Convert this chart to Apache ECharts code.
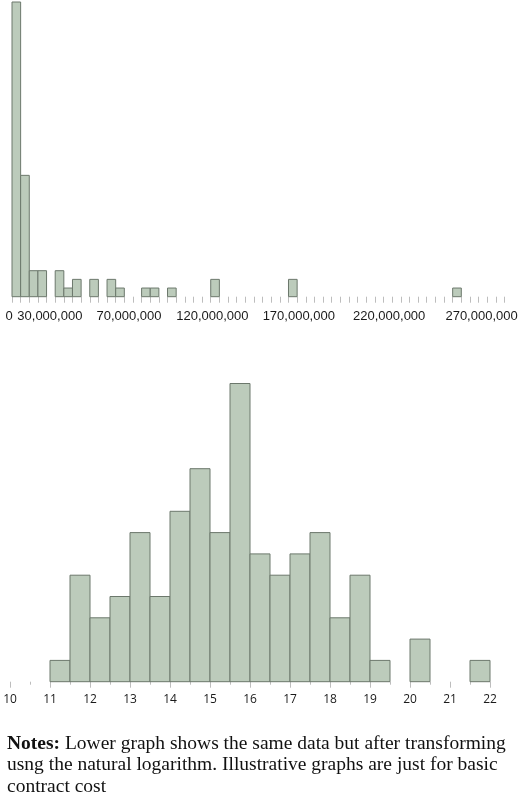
<!DOCTYPE html>
<html>
<head>
<meta charset="utf-8">
<script src="https://cdn.jsdelivr.net/npm/echarts@6/dist/echarts.min.js"></script>
<style>
  html, body { margin: 0; padding: 0; background: #fff; }
  #chart { width: 520px; height: 795px; }
</style>
</head>
<body>
<div id="chart"></div>
<script>
// upper histogram: raw contract cost, 5,000,000 wide bins
const topBinWidth = 5000000;
const topBinStart = [0, 5, 10, 15, 25, 30, 35, 45, 55, 60, 75, 80, 90, 115, 160, 255].map(v => v * 1000000);
const topCount = [34, 14, 3, 3, 3, 1, 2, 2, 2, 1, 1, 1, 1, 2, 2, 1];
const topLabels = [0, 30000000, 70000000, 120000000, 170000000, 220000000, 270000000];

// lower histogram: natural log of the same costs, 0.5 wide bins
const lowBinWidth = 0.5;
const lowBinStart = [11, 11.5, 12, 12.5, 13, 13.5, 14, 14.5, 15, 15.5, 16, 16.5, 17, 17.5, 18, 18.5, 19, 20, 21.5];
const lowCount = [1, 5, 3, 4, 7, 4, 8, 10, 7, 14, 6, 5, 6, 7, 3, 5, 1, 2, 1];
const lowLabels = [10, 11, 12, 13, 14, 15, 16, 17, 18, 19, 20, 21, 22];

const notes = '{b|Notes:} Lower graph shows the same data but after transforming\n' +
  'usng the natural logarithm. Illustrative graphs are just for basic\n' +
  'contract cost';

const barFill = '#bccbbb';
const barLine = '#6c786c';

// small nudges so the top labels sit where the original put them (padding l/r)
const topLabelPad = [[0, 6], [0, 28], [0, 8], [0, 14], [0, 14], [0, 6], [6, 0]];

const topData = topBinStart.map((s, i) => [s, s + topBinWidth, topCount[i]]);
const lowData = lowBinStart.map((s, i) => [s, s + lowBinWidth, lowCount[i]]);

function renderBin(params, api) {
    const p0 = api.coord([api.value(0), api.value(2)]);
    const p1 = api.coord([api.value(1), 0]);
    return {
        type: 'rect',
        shape: { x: p0[0], y: p0[1], width: p1[0] - p0[0], height: p1[1] - p0[1] },
        style: { fill: barFill, stroke: barLine, lineWidth: 1 }
    };
}

function fmtNum(v) {
    return String(v).replace(/\B(?=(\d{3})+(?!\d))/g, ',');
}

const topRich = {};
topLabelPad.forEach((p, i) => {
    topRich['t' + i] = {
        fontFamily: 'Liberation Sans', fontSize: 13, color: '#1a1a1a',
        padding: [0, p[1], 0, p[0]]
    };
});

const chart = echarts.init(document.getElementById('chart'));
chart.setOption({
    animation: false,
    title: {
        text: notes,
        left: 2,
        top: 728,
        textStyle: {
            fontFamily: 'Liberation Serif',
            fontSize: 19.5,
            fontWeight: 'normal',
            color: '#111',
            lineHeight: 21.5,
            rich: {
                b: { fontFamily: 'Liberation Serif', fontSize: 19.5, fontWeight: 'bold', color: '#111', lineHeight: 21.5 }
            }
        }
    },
    grid: [
        { left: 12, top: 2, width: 492.5, height: 294.7, containLabel: false, outerBoundsMode: 'none' },
        { left: 10, top: 383.5, width: 480, height: 298.2, containLabel: false, outerBoundsMode: 'none' }
    ],
    xAxis: [
        {
            gridIndex: 0,
            type: 'value',
            min: 0,
            max: 285000000,
            interval: topBinWidth,
            axisLine: { show: false },
            splitLine: { show: false },
            axisTick: { show: true, length: 6, lineStyle: { color: '#bdbdbd', width: 1 } },
            axisLabel: {
                margin: 13,
                fontFamily: 'Liberation Sans',
                fontSize: 13,
                color: '#1a1a1a',
                showMinLabel: true,
                showMaxLabel: true,
                formatter: function (v) {
                    const k = topLabels.indexOf(v);
                    if (k < 0) return '';
                    return '{t' + k + '|' + fmtNum(v) + '}';
                },
                rich: topRich
            }
        },
        {
            gridIndex: 1,
            type: 'value',
            min: 10,
            max: 22,
            interval: 1,
            axisLine: { show: false },
            splitLine: { show: false },
            axisTick: { show: true, length: 6, lineStyle: { color: '#bdbdbd', width: 1 } },
            minorTick: { show: true, splitNumber: 2, length: 3, lineStyle: { color: '#bdbdbd', width: 1 } },
            axisLabel: {
                margin: 12,
                fontFamily: 'Open Sans',
                fontSize: 12,
                color: '#1a1a1a',
                showMinLabel: true,
                showMaxLabel: true,
                formatter: function (v) {
                    return lowLabels.indexOf(v) < 0 ? '' : String(v);
                }
            }
        }
    ],
    yAxis: [
        { gridIndex: 0, type: 'value', min: 0, max: 34, show: false },
        { gridIndex: 1, type: 'value', min: 0, max: 14, show: false }
    ],
    series: [
        {
            type: 'custom',
            xAxisIndex: 0,
            yAxisIndex: 0,
            renderItem: renderBin,
            encode: { x: [0, 1], y: 2 },
            data: topData
        },
        {
            type: 'custom',
            xAxisIndex: 1,
            yAxisIndex: 1,
            renderItem: renderBin,
            encode: { x: [0, 1], y: 2 },
            data: lowData
        }
    ]
});
</script>
</body>
</html>
